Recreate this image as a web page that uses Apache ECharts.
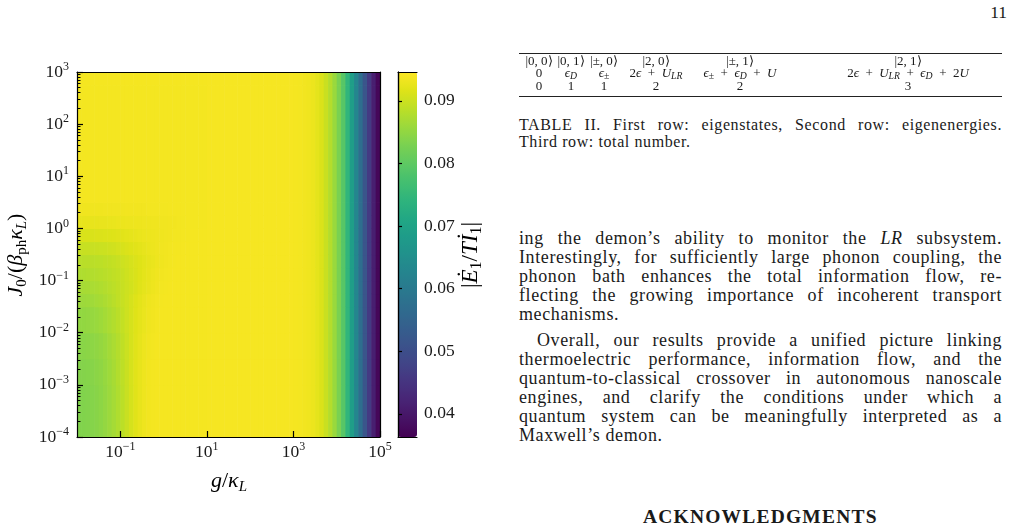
<!DOCTYPE html>
<html>
<head>
<meta charset="utf-8">
<title>|E1/TI1| map</title>
<script src="https://cdn.jsdelivr.net/npm/echarts@6/dist/echarts.min.js"></script>
<style>
body{margin:0;background:#fff;font-family:"Liberation Serif",serif;color:#1a1a1a;}
#main{position:absolute;left:0;top:0;width:500px;height:529px;}
.col{position:absolute;left:519px;width:483px;}
.p{font-size:18px;line-height:19.1px;letter-spacing:0.6px;}
.j{text-align:justify;text-align-last:justify;}
.cap{font-size:16px;line-height:17px;letter-spacing:0.6px;}
.rule{position:absolute;left:519px;width:483px;height:0;border-top:1px solid #222;}
.tc{position:absolute;width:240px;text-align:center;font-size:13px;line-height:12px;white-space:nowrap;}
sub{font-size:75%;line-height:0;vertical-align:-0.25em;}
</style>
</head>
<body>
<div id="main"></div>

<div style="position:absolute;left:950px;width:57px;top:3px;text-align:right;font-size:17.5px;line-height:19px;">11</div>

<div class="rule" style="top:53px"></div>
<div id="tbl"></div>
<div class="rule" style="top:96px"></div>

<div class="col cap" style="top:116px">
  <div class="j">TABLE II. First row: eigenstates, Second row: eigenenergies.</div>
  <div>Third row: total number.</div>
</div>

<div class="col p" style="top:229px">
  <div class="j">ing the demon’s ability to monitor the <i>LR</i> subsystem.</div>
  <div class="j">Interestingly, for sufficiently large phonon coupling, the</div>
  <div class="j">phonon bath enhances the total information flow, re-</div>
  <div class="j">flecting the growing importance of incoherent transport</div>
  <div>mechanisms.</div>
</div>

<div class="col p" style="top:331px">
  <div class="j" style="padding-left:18px">Overall, our results provide a unified picture linking</div>
  <div class="j">thermoelectric performance, information flow, and the</div>
  <div class="j">quantum-to-classical crossover in autonomous nanoscale</div>
  <div class="j">engines, and clarify the conditions under which a</div>
  <div class="j">quantum system can be meaningfully interpreted as a</div>
  <div>Maxwell’s demon.</div>
</div>

<div style="position:absolute;left:643px;top:506px;font-size:19.5px;font-weight:bold;letter-spacing:1.2px;line-height:21px;">ACKNOWLEDGMENTS</div>

<script>
// ---- heatmap data: |E1/TI1| ----
// x = log10(g/kappa_L) columns every 0.1 decade from -2 to 5
// y bands (log10 J0/(beta_ph kappa_L))
var bandEdges = [-4, -3, -2.5, -2, -1.5, -1.25, -1, -0.75, -0.5, -0.25, 0, 0.25, 0.5, 2.75, 3];

// left part of each band, g from 10^-2 to 10^1 (30 columns)
var band0 = [0.0836,0.0836,0.0837,0.0839,0.0842,0.0846,0.0852,0.0859,0.0867,0.0876,0.0886,0.0897,0.0908,0.0918,0.0926,0.0931,0.0935,0.0937,0.0938,0.0938,0.0938,0.0938,0.0938,0.0938,0.0938,0.0938,0.0938,0.0938,0.0938,0.0938];
var band1 = [0.0838,0.0838,0.0839,0.0841,0.0844,0.0848,0.0854,0.0861,0.0869,0.0878,0.0888,0.0898,0.0909,0.0919,0.0926,0.0931,0.0935,0.0937,0.0938,0.0938,0.0938,0.0938,0.0938,0.0938,0.0938,0.0938,0.0938,0.0938,0.0938,0.0938];
var band2 = [0.0843,0.0843,0.0844,0.0846,0.0849,0.0853,0.0858,0.0865,0.0872,0.0880,0.0889,0.0899,0.0909,0.0918,0.0925,0.0930,0.0934,0.0936,0.0938,0.0938,0.0938,0.0938,0.0938,0.0938,0.0938,0.0938,0.0938,0.0938,0.0938,0.0938];
var band3 = [0.0851,0.0851,0.0852,0.0854,0.0857,0.0861,0.0866,0.0872,0.0878,0.0885,0.0893,0.0901,0.0909,0.0917,0.0923,0.0928,0.0932,0.0935,0.0937,0.0938,0.0938,0.0938,0.0938,0.0938,0.0938,0.0938,0.0938,0.0938,0.0938,0.0938];
var band4 = [0.0860,0.0860,0.0861,0.0863,0.0866,0.0869,0.0873,0.0878,0.0884,0.0890,0.0896,0.0902,0.0909,0.0916,0.0922,0.0927,0.0931,0.0934,0.0936,0.0937,0.0938,0.0938,0.0938,0.0938,0.0938,0.0938,0.0938,0.0938,0.0938,0.0938];
var band5 = [0.0868,0.0868,0.0869,0.0871,0.0873,0.0876,0.0879,0.0883,0.0887,0.0891,0.0896,0.0901,0.0906,0.0912,0.0918,0.0923,0.0927,0.0931,0.0934,0.0936,0.0937,0.0938,0.0938,0.0938,0.0938,0.0938,0.0938,0.0938,0.0938,0.0938];
var band6 = [0.0876,0.0876,0.0877,0.0878,0.0880,0.0882,0.0884,0.0887,0.0890,0.0893,0.0897,0.0902,0.0907,0.0912,0.0917,0.0922,0.0926,0.0930,0.0933,0.0935,0.0936,0.0937,0.0938,0.0938,0.0938,0.0938,0.0938,0.0938,0.0938,0.0938];
var band7 = [0.0884,0.0884,0.0884,0.0885,0.0886,0.0887,0.0889,0.0891,0.0894,0.0897,0.0901,0.0905,0.0909,0.0913,0.0917,0.0921,0.0925,0.0928,0.0931,0.0933,0.0935,0.0936,0.0937,0.0938,0.0938,0.0938,0.0938,0.0938,0.0938,0.0938];
var band8 = [0.0896,0.0896,0.0896,0.0897,0.0898,0.0899,0.0900,0.0902,0.0904,0.0907,0.0910,0.0913,0.0916,0.0919,0.0922,0.0925,0.0928,0.0930,0.0932,0.0934,0.0935,0.0936,0.0937,0.0937,0.0938,0.0938,0.0938,0.0938,0.0938,0.0938];
var band9 = [0.0912,0.0912,0.0912,0.0912,0.0913,0.0913,0.0914,0.0915,0.0916,0.0918,0.0920,0.0922,0.0924,0.0926,0.0928,0.0929,0.0930,0.0931,0.0932,0.0933,0.0934,0.0935,0.0936,0.0936,0.0937,0.0937,0.0938,0.0938,0.0938,0.0938];
var band10 = [0.0926,0.0926,0.0926,0.0926,0.0926,0.0927,0.0927,0.0928,0.0928,0.0929,0.0929,0.0930,0.0930,0.0931,0.0931,0.0932,0.0932,0.0933,0.0933,0.0934,0.0934,0.0935,0.0935,0.0936,0.0936,0.0937,0.0937,0.0937,0.0937,0.0937];
var band11 = [0.0933,0.0933,0.0933,0.0933,0.0933,0.0933,0.0934,0.0934,0.0934,0.0934,0.0934,0.0935,0.0935,0.0935,0.0935,0.0935,0.0936,0.0936,0.0936,0.0936,0.0936,0.0937,0.0937,0.0937,0.0937,0.0937,0.0937,0.0937,0.0937,0.0937];
var band12 = [0.0937,0.0937,0.0937,0.0937,0.0937,0.0937,0.0937,0.0937,0.0937,0.0937,0.0937,0.0937,0.0937,0.0937,0.0937,0.0937,0.0937,0.0937,0.0937,0.0937,0.0937,0.0937,0.0937,0.0937,0.0937,0.0937,0.0937,0.0937,0.0937,0.0937];
var band13 = [0.0938,0.0938,0.0938,0.0938,0.0938,0.0938,0.0938,0.0938,0.0938,0.0938,0.0938,0.0938,0.0938,0.0938,0.0938,0.0938,0.0938,0.0938,0.0938,0.0938,0.0938,0.0938,0.0938,0.0938,0.0938,0.0938,0.0938,0.0938,0.0938,0.0938];
var leftBands = [band0,band1,band2,band3,band4,band5,band6,band7,band8,band9,band10,band11,band12,band13];

// g from 10^1 to 10^5 (40 columns), same for every band
var midRight = [0.0939,0.0939,0.0939,0.0939,0.0939,0.0939,0.0939,0.0939,0.0939,0.0939,
                0.0939,0.0939,0.0939,0.0939,0.0939,0.0939,0.0939,0.0939,0.0939,0.0939,
                0.0938,0.0937,0.0935,0.0933,0.0929,0.0923,0.0913,0.0898,0.0880,0.0857,
                0.0828,0.0792,0.0745,0.0688,0.0630,0.0572,0.0516,0.0462,0.0412,0.0372];

var xTicks = [0.1, 10, 1000, 100000];
var yTicks = [1e-4, 1e-3, 1e-2, 1e-1, 1, 10, 100, 1000];
var cbTicks = [0.04, 0.05, 0.06, 0.07, 0.08, 0.09];
var cbMin = 0.0363, cbMax = 0.0946;

var viridis = ['#440154','#471365','#482475','#463480','#414487','#3b528b','#355f8d','#2f6c8e','#2a788e','#25848e',
               '#21918c','#1e9c89','#22a884','#2fb47c','#44bf70','#5ec962','#7ad151','#9bd93c','#bddf26','#dfe318','#fde725'];

// table rows
var tCols = [539, 571, 604, 656, 740, 908];
var tRowTops = [54.5, 67, 79.5];
var P = '&ensp;+&ensp;';
var tRow1 = ['|0, 0⟩','|0, 1⟩','|±, 0⟩','|2, 0⟩','|±, 1⟩','|2, 1⟩'];
var tRow2 = ['0','<i>ϵ</i><sub><i>D</i></sub>','<i>ϵ</i><sub>±</sub>','2<i>ϵ</i>' + P + '<i>U</i><sub><i>LR</i></sub>',
             '<i>ϵ</i><sub>±</sub>' + P + '<i>ϵ</i><sub><i>D</i></sub>' + P + '<i>U</i>',
             '2<i>ϵ</i>' + P + '<i>U</i><sub><i>LR</i></sub>' + P + '<i>ϵ</i><sub><i>D</i></sub>' + P + '2<i>U</i>'];
var tRow3 = ['0','1','1','2','2','3'];

var html = '';
[tRow1, tRow2, tRow3].forEach(function (r, k) {
  r.forEach(function (t, i) {
    html += '<div class="tc" style="left:' + (tCols[i] - 120) + 'px;top:' + tRowTops[k] + 'px">' + t + '</div>';
  });
});
document.getElementById('tbl').innerHTML = html;

// ---- build cells ----
var gMin = -2, gStep = 0.1;
var cells = [];
for (var b = 0; b < leftBands.length; b++) {
  var row = leftBands[b].concat(midRight);
  for (var i = 0; i < row.length; i++) {
    var g0 = gMin + i * gStep;
    cells.push([Math.pow(10, g0), Math.pow(10, g0 + gStep), Math.pow(10, bandEdges[b]), Math.pow(10, bandEdges[b + 1]), row[i]]);
  }
}
var minorTicks = [];
for (var n = -4; n < 3; n++) {
  for (var k = 2; k < 10; k++) minorTicks.push(k * Math.pow(10, n));
}

var FONT = 'Liberation Serif';
var INK = '#1a1a1a';
var powRich = {
  b: {fontFamily: FONT, fontSize: 17.5, lineHeight: 22, color: INK},
  s: {fontFamily: FONT, fontSize: 12, lineHeight: 12, verticalAlign: 'top', color: INK}
};
function powLabel(v) {
  var e = Math.round(Math.log(v) / Math.LN10);
  return '{b|10}{s|' + (e < 0 ? '\u2212' + (-e) : e) + '}';
}
var nameRich = {
  i: {fontFamily: FONT, fontSize: 22, fontStyle: 'italic', lineHeight: 28, color: INK},
  n: {fontFamily: FONT, fontSize: 22, lineHeight: 28, color: INK},
  sub: {fontFamily: FONT, fontSize: 15, lineHeight: 14, verticalAlign: 'bottom', color: INK},
  subi: {fontFamily: FONT, fontSize: 15, fontStyle: 'italic', lineHeight: 14, verticalAlign: 'bottom', color: INK}
};
var cbRich = {
  i: {fontFamily: FONT, fontSize: 23, fontStyle: 'italic', lineHeight: 28, color: INK},
  n: {fontFamily: FONT, fontSize: 23, lineHeight: 28, color: INK},
  sub: {fontFamily: FONT, fontSize: 16, lineHeight: 14, verticalAlign: 'bottom', color: INK}
};
var blk = {color: '#000', width: 1.2};
function lineOnly(o) {
  o.axisLine = {show: true, lineStyle: blk};
  o.axisTick = {show: false};
  o.axisLabel = {show: false};
  o.splitLine = {show: false};
  o.z = 10;
  return o;
}

var chart = echarts.init(document.getElementById('main'));
var option = {
  animation: false,
  grid: [
    {left: 77, top: 72, width: 303, height: 365},
    {left: 398, top: 72, width: 19, height: 365}
  ],
  xAxis: [
    {gridIndex: 0, type: 'log', logBase: 10, min: 0.01, max: 1e5, position: 'bottom', z: 10,
     axisLine: {show: true, lineStyle: blk},
     axisTick: {inside: true, length: 6, customValues: xTicks, lineStyle: blk},
     axisLabel: {customValues: xTicks, margin: 4, formatter: powLabel, rich: powRich},
     splitLine: {show: false}},
    lineOnly({gridIndex: 0, type: 'log', logBase: 10, min: 0.01, max: 1e5, position: 'top'}),
    lineOnly({gridIndex: 1, type: 'value', min: 0, max: 1, position: 'bottom'}),
    lineOnly({gridIndex: 1, type: 'value', min: 0, max: 1, position: 'top'})
  ],
  yAxis: [
    {gridIndex: 0, type: 'log', logBase: 10, min: 1e-4, max: 1e3, position: 'left', z: 10,
     axisLine: {show: true, lineStyle: blk},
     axisTick: {inside: true, length: 6, customValues: yTicks, lineStyle: blk},
     axisLabel: {customValues: yTicks, margin: 8, formatter: powLabel, rich: powRich},
     splitLine: {show: false}},
    {gridIndex: 0, type: 'log', logBase: 10, min: 1e-4, max: 1e3, position: 'left', z: 10,
     axisLine: {show: false},
     axisTick: {inside: true, length: 3.5, customValues: minorTicks, lineStyle: {color: '#000', width: 1}},
     axisLabel: {show: false}, splitLine: {show: false}},
    lineOnly({gridIndex: 0, type: 'log', logBase: 10, min: 1e-4, max: 1e3, position: 'right'}),
    {gridIndex: 1, type: 'value', min: cbMin, max: cbMax, position: 'right', z: 10,
     axisLine: {show: true, lineStyle: blk},
     axisTick: {inside: false, length: 4, customValues: cbTicks, lineStyle: blk},
     axisLabel: {customValues: cbTicks, margin: 7, color: INK, fontFamily: FONT, fontSize: 17.5,
                 formatter: function (v) { return v.toFixed(2); }},
     splitLine: {show: false}},
    lineOnly({gridIndex: 1, type: 'value', min: cbMin, max: cbMax, position: 'left'})
  ],
  visualMap: {
    type: 'continuous', seriesIndex: 0, dimension: 4, min: cbMin, max: cbMax,
    inRange: {color: viridis}, calculable: false, hoverLink: false,
    orient: 'vertical', left: 398, top: 72, itemWidth: 19, itemHeight: 365, padding: 0
  },
  graphic: [
    {type: 'text', x: 229, y: 481, style: {text: '{i|g}{n|/}{i|κ}{subi|L}', rich: nameRich, align: 'center', verticalAlign: 'middle'}},
    {type: 'text', x: 16, y: 255, rotation: Math.PI / 2,
     style: {text: '{i|J}{sub|0}{n|/(}{i|β}{sub|ph}{i|κ}{subi|L}{n|)}', rich: nameRich, align: 'center', verticalAlign: 'middle'}},
    {type: 'text', x: 471, y: 255, rotation: Math.PI / 2,
     style: {text: '{n||}{i|Ė}{sub|1}{n|/}{i|T}{i|İ}{sub|1}{n||}', rich: cbRich, align: 'center', verticalAlign: 'middle'}}
  ],
  series: [{
    type: 'custom',
    xAxisIndex: 0, yAxisIndex: 0,
    clip: true,
    encode: {x: [0, 1], y: [2, 3]},
    data: cells,
    renderItem: function (params, api) {
      var p0 = api.coord([api.value(0), api.value(3)]);
      var p1 = api.coord([api.value(1), api.value(2)]);
      return {
        type: 'rect',
        shape: {x: p0[0], y: p0[1], width: p1[0] - p0[0] + 0.6, height: p1[1] - p0[1] + 0.6},
        style: {fill: api.visual('color')}
      };
    }
  }]
};
chart.setOption(option);
</script>
</body>
</html>
